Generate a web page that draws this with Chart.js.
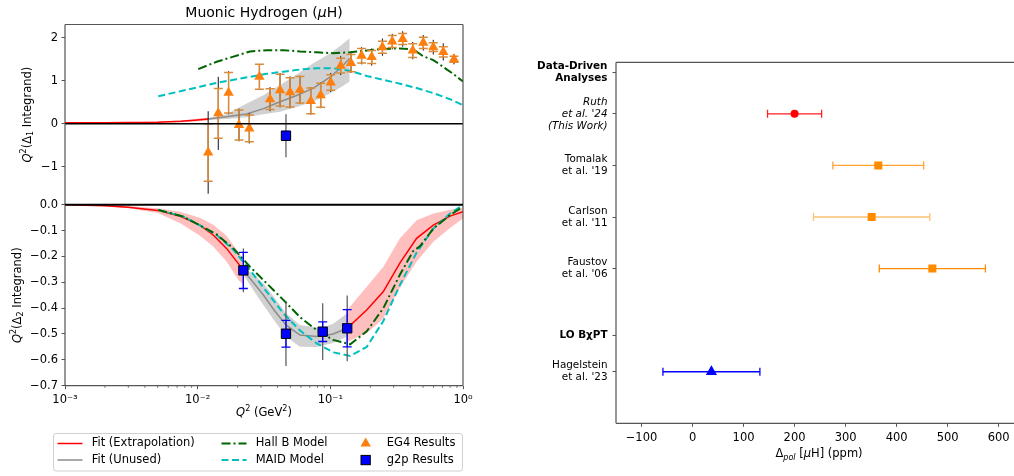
<!DOCTYPE html>
<html>
<head>
<meta charset="utf-8">
<title>Muonic Hydrogen</title>
<script src="https://cdn.jsdelivr.net/npm/chart.js@4.4.1/dist/chart.umd.min.js"></script>
<style>
  html, body { margin: 0; padding: 0; background: #fff; }
  #page { position: relative; width: 1014px; height: 476px; overflow: hidden; }
  canvas { position: absolute; top: 0; }
</style>
</head>
<body>
<div id="page">
  <canvas id="topChart" width="500" height="476" style="left:0"></canvas>
  <canvas id="bottomChart" width="500" height="476" style="left:0"></canvas>
  <canvas id="resultChart" width="514" height="476" style="left:500px"></canvas>
</div>
<script>
// ---------- shared x axis (Q^2 in GeV^2, log) ----------
const q2Ticks = [0.001, 0.01, 0.1, 1];
const q2TickLabels = ['10⁻³', '10⁻²', '10⁻¹', '10⁰'];

// ---------- top panel: Q^2 (Delta_1 integrand) ----------
const topTicks = [-1, 0, 1, 2];

const eg4Q2 = [0.0120, 0.0143, 0.0171, 0.0205, 0.0245, 0.0292, 0.0351, 0.0418, 0.0497, 0.059, 0.0712, 0.0846, 0.1006,
  0.1197, 0.143, 0.172, 0.205, 0.247, 0.293, 0.351, 0.418, 0.502, 0.597, 0.71, 0.855];
const eg4Val = [-0.67, 0.24, 0.72, -0.03, -0.11, 1.09, 0.57, 0.78, 0.73, 0.79, 0.53, 0.66, 0.96, 1.35, 1.41, 1.58, 1.55,
  1.78, 1.91, 1.97, 1.70, 1.88, 1.78, 1.67, 1.50];
const eg4Err = [0.67, 0.58, 0.47, 0.35, 0.31, 0.29, 0.24, 0.37, 0.34, 0.31, 0.30, 0.28, 0.18, 0.17, 0.2, 0.17, 0.15,
  0.14, 0.14, 0.13, 0.16, 0.13, 0.1, 0.12, 0.07];
const eg4Sys = [0.96, 0.85, 0.5, 0.38, 0.35, 0.3, 0.28, 0.4, 0.37, 0.33, 0.32, 0.3, 0.22, 0.22, 0.23, 0.2, 0.2,
  0.2, 0.18, 0.18, 0.2, 0.18, 0.17, 0.2, 0.12];

const g2pTopQ2 = [0.0463];
const g2pTopVal = [-0.28];
const g2pTopErr = [0.1];
const g2pTopSys = [0.5];

const fitTopQ2 = [0.001, 0.002, 0.003, 0.005, 0.0075, 0.0095, 0.012];
const fitTopVal = [0.02, 0.022, 0.025, 0.035, 0.055, 0.08, 0.11];
const fitTopLo = [0.012, 0.013, 0.014, 0.02, 0.033, 0.05, 0.075];
const fitTopHi = [0.028, 0.031, 0.036, 0.05, 0.077, 0.11, 0.145];

const unusedTopQ2 = [0.012, 0.0165, 0.0234, 0.0313, 0.0418, 0.055, 0.074, 0.1, 0.12, 0.14];
const unusedTopVal = [0.11, 0.16, 0.225, 0.35, 0.51, 0.65, 0.82, 1.09, 1.3, 1.52];
const unusedTopLo = [0.085, 0.11, 0.15, 0.22, 0.28, 0.38, 0.51, 0.71, 0.85, 0.98];
const unusedTopHi = [0.135, 0.22, 0.47, 0.66, 0.9, 1.13, 1.4, 1.64, 1.82, 1.99];

const hallBTopQ2 = [0.0101, 0.0139, 0.0186, 0.0248, 0.0331, 0.0442, 0.0591, 0.0789, 0.105, 0.141, 0.188, 0.251,
  0.335, 0.423, 0.5, 0.598, 0.71, 0.85, 1.0];
const hallBTopVal = [1.27, 1.44, 1.56, 1.68, 1.71, 1.71, 1.68, 1.66, 1.64, 1.66, 1.70, 1.74, 1.75, 1.73, 1.57, 1.48,
  1.32, 1.15, 0.98];

const maidTopQ2 = [0.00505, 0.0078, 0.0104, 0.0139, 0.0186, 0.0248, 0.0331, 0.0442, 0.0591, 0.0789, 0.105, 0.141,
  0.188, 0.251, 0.335, 0.447, 0.598, 0.798, 1.0];
const maidTopVal = [0.64, 0.77, 0.86, 0.95, 1.02, 1.09, 1.16, 1.21, 1.26, 1.29, 1.29, 1.23, 1.11, 1.02, 0.93, 0.83,
  0.71, 0.57, 0.43];

// ---------- bottom panel: Q^2 (Delta_2 integrand) ----------
const bottomTicks = [0, -0.1, -0.2, -0.3, -0.4, -0.5, -0.6, -0.7];

const g2pBotQ2 = [0.0221, 0.0463, 0.0876, 0.134];
const g2pBotVal = [-0.254, -0.499, -0.491, -0.478];
const g2pBotErr = [0.07, 0.052, 0.038, 0.072];
const g2pBotSys = [0.085, 0.125, 0.11, 0.127];

const fitLowQ2 = [0.001, 0.002, 0.003, 0.005, 0.0074, 0.0104, 0.0131, 0.0165, 0.0202, 0.0221];
const fitLowVal = [0, -0.004, -0.01, -0.022, -0.045, -0.079, -0.117, -0.169, -0.227, -0.254];
const fitLowLo = [0, -0.006, -0.014, -0.032, -0.072, -0.12, -0.162, -0.22, -0.29, -0.31];
const fitLowHi = [0, -0.003, -0.006, -0.014, -0.027, -0.05, -0.078, -0.12, -0.182, -0.21];

const fitHighQ2 = [0.134, 0.188, 0.251, 0.335, 0.447, 0.598, 0.798, 1.0];
const fitHighVal = [-0.478, -0.407, -0.336, -0.225, -0.13, -0.079, -0.044, -0.027];
const fitHighLo = [-0.53, -0.497, -0.44, -0.32, -0.22, -0.143, -0.09, -0.053];
const fitHighHi = [-0.407, -0.317, -0.24, -0.13, -0.06, -0.034, -0.02, -0.012];

const unusedBotQ2 = [0.0221, 0.0262, 0.0313, 0.038, 0.0463, 0.059, 0.0789, 0.0876, 0.105, 0.134];
const unusedBotVal = [-0.254, -0.30, -0.349, -0.41, -0.465, -0.504, -0.51, -0.508, -0.50, -0.478];
const unusedBotLo = [-0.27, -0.33, -0.388, -0.45, -0.51, -0.549, -0.55, -0.545, -0.535, -0.51];
const unusedBotHi = [-0.24, -0.27, -0.304, -0.36, -0.42, -0.465, -0.475, -0.475, -0.46, -0.42];

const hallBBotQ2 = [0.00505, 0.0078, 0.0104, 0.0139, 0.0186, 0.0248, 0.0331, 0.0442, 0.0591, 0.0789, 0.105, 0.141,
  0.188, 0.251, 0.335, 0.42, 0.475, 0.598, 0.798, 1.0];
const hallBBotVal = [-0.02, -0.046, -0.08, -0.115, -0.169, -0.24, -0.304, -0.368, -0.435, -0.485, -0.523, -0.54,
  -0.49, -0.40, -0.27, -0.18, -0.16, -0.092, -0.04, -0.008];

const maidBotQ2 = [0.00505, 0.0078, 0.0104, 0.0139, 0.0186, 0.0248, 0.0331, 0.0442, 0.0591, 0.0789, 0.105, 0.141,
  0.188, 0.251, 0.335, 0.447, 0.598, 0.798, 1.0];
const maidBotVal = [-0.02, -0.046, -0.08, -0.117, -0.175, -0.253, -0.336, -0.42, -0.487, -0.536, -0.571, -0.585,
  -0.55, -0.45, -0.31, -0.185, -0.092, -0.034, -0.001];

const legendLabels = ['Fit (Extrapolation)', 'Fit (Unused)', 'Hall B Model', 'MAID Model', 'EG4 Results', 'g2p Results'];

// ---------- right panel: Delta_pol comparison ----------
const rowLabels = [['Data-Driven', 'Analyses'], ['Ruth', "et al. '24", '(This Work)'], ['Tomalak', "et al. '19"],
  ['Carlson', "et al. '11"], ['Faustov', "et al. '06"], 'LO BχPT', ['Hagelstein', "et al. '23"]];
const rowY = [-0.8, 0, 1, 2, 3, 4.3, 5];
const resultRow = [1, 2, 3, 4, 6];
const resultVal = [200, 364, 351, 470, 37];
const resultErr = [53, 89, 114, 104, 95];
const polTicks = [-100, 0, 100, 200, 300, 400, 500, 600];

// ---------- styling ----------
const FONT = '"DejaVu Sans", sans-serif';
const BASE = 11.5;
const AXIS = '#555';
const ORANGE = '#ff7f0e';
const EG4_BAR = '#d98b3a';
const resultColor = ['#ff0000', '#ff8c00', '#ff8c00', '#ff8c00', '#0000ff'];
const resultBar = ['#ff2020', 'rgba(255,140,0,0.8)', 'rgba(255,140,0,0.55)', '#ff8c00', '#0000ff'];
const resultMarker = ['circle', 'rect', 'rect', 'rect', 'triangle'];
const resultSize = [4, 5.7, 5.7, 5.7, 6.5];

Chart.defaults.font.family = FONT;
Chart.defaults.font.size = BASE;
Chart.defaults.color = '#000';
Chart.defaults.animation = false;
Chart.defaults.events = [];
Chart.defaults.plugins.legend.display = false;
Chart.defaults.plugins.tooltip.enabled = false;

const pts = (xs, ys) => xs.map((x, i) => ({ x, y: ys[i] }));
const minus = s => String(s).replace('-', '−');

function line(xs, ys, color, width, dash) {
  return { data: pts(xs, ys), borderColor: color, borderWidth: width, borderDash: dash || [],
    pointRadius: 0, fill: false, tension: 0 };
}
function band(xs, hi, lo, color) {
  return [
    { data: pts(xs, hi), borderWidth: 0, borderColor: 'rgba(0,0,0,0)', pointRadius: 0, fill: '+1', backgroundColor: color },
    { data: pts(xs, lo), borderWidth: 0, borderColor: 'rgba(0,0,0,0)', pointRadius: 0, fill: false }
  ];
}

// text with mixed styles (italic, super/subscripts)
function rich(ctx, x, y, parts, opt = {}) {
  ctx.save();
  ctx.translate(x, y);
  if (opt.rot) ctx.rotate(opt.rot);
  ctx.fillStyle = '#000';
  ctx.textBaseline = 'alphabetic';
  ctx.textAlign = 'left';
  const size = opt.size || BASE;
  const fontOf = p => (p.it ? 'italic ' : '') + (p.small ? size * 0.7 : size) + 'px ' + FONT;
  let w = 0;
  parts.forEach(p => { ctx.font = fontOf(p); p.w = ctx.measureText(p.t).width; w += p.w; });
  let cx = -w / 2;
  parts.forEach(p => { ctx.font = fontOf(p); ctx.fillText(p.t, cx, (p.dy || 0) * size); cx += p.w; });
  ctx.restore();
}

// error bars drawn just under each dataset's markers
const errorBars = {
  id: 'errorBars',
  beforeDatasetDraw(chart, args) {
    const ds = chart.data.datasets[args.index];
    if (!ds.errBars) return;
    const { ctx, chartArea } = chart;
    const xs = chart.scales[args.meta.xAxisID];
    const ys = chart.scales[args.meta.yAxisID];
    ctx.save();
    ctx.beginPath();
    ctx.rect(chartArea.left, chartArea.top, chartArea.width, chartArea.height);
    ctx.clip();
    ds.errBars.forEach(b => {
      ctx.lineWidth = b.width;
      ds.data.forEach((p, i) => {
        const e = b.err[i];
        ctx.strokeStyle = Array.isArray(b.color) ? b.color[i] : b.color;
        ctx.beginPath();
        if (b.dir === 'x') {
          const y = ys.getPixelForValue(p.y);
          const x0 = xs.getPixelForValue(p.x - e), x1 = xs.getPixelForValue(p.x + e);
          ctx.moveTo(x0, y); ctx.lineTo(x1, y);
          if (b.cap) {
            ctx.moveTo(x0, y - b.cap); ctx.lineTo(x0, y + b.cap);
            ctx.moveTo(x1, y - b.cap); ctx.lineTo(x1, y + b.cap);
          }
        } else {
          const x = xs.getPixelForValue(p.x);
          const y0 = ys.getPixelForValue(p.y - e), y1 = ys.getPixelForValue(p.y + e);
          ctx.moveTo(x, y0); ctx.lineTo(x, y1);
          if (b.cap) {
            ctx.moveTo(x - b.cap, y0); ctx.lineTo(x + b.cap, y0);
            ctx.moveTo(x - b.cap, y1); ctx.lineTo(x + b.cap, y1);
          }
        }
        ctx.stroke();
      });
    });
    ctx.restore();
  }
};

// frame + black zero line
function frame(sides, zeroWidth) {
  return {
    id: 'frame',
    afterDatasetsDraw(chart) {
      const { ctx, chartArea: a } = chart;
      ctx.save();
      if (zeroWidth) {
        const y0 = chart.scales.y.getPixelForValue(0);
        ctx.strokeStyle = '#000';
        ctx.lineWidth = zeroWidth;
        ctx.beginPath(); ctx.moveTo(a.left, y0); ctx.lineTo(a.right, y0); ctx.stroke();
      }
      ctx.strokeStyle = AXIS;
      ctx.lineWidth = 1.2;
      ctx.beginPath();
      if (sides.includes('t')) { ctx.moveTo(a.left, a.top); ctx.lineTo(a.right, a.top); }
      if (sides.includes('b')) { ctx.moveTo(a.left, a.bottom); ctx.lineTo(a.right, a.bottom); }
      if (sides.includes('l')) { ctx.moveTo(a.left, a.top); ctx.lineTo(a.left, a.bottom); }
      if (sides.includes('r')) { ctx.moveTo(a.right, a.top); ctx.lineTo(a.right, a.bottom); }
      ctx.stroke();
      ctx.restore();
    }
  };
}

function yAxis(min, max, ticks, fmt, width) {
  return {
    type: 'linear', min, max,
    afterBuildTicks: s => { s.ticks = ticks.map(v => ({ value: v })); },
    afterFit: s => { s.width = width; },
    grid: { drawOnChartArea: false, tickLength: 3.5, color: AXIS, lineWidth: 1 },
    border: { display: false },
    ticks: { autoSkip: false, padding: 3.5, callback: fmt }
  };
}

function logX(show) {
  return {
    type: 'logarithmic', min: 0.001, max: 1, display: show,
    afterBuildTicks: s => { s.ticks = q2Ticks.map(v => ({ value: v })); },
    afterFit: s => { s.height = show ? 34 : 0; s.paddingLeft = 0; s.paddingRight = 0; },
    grid: { drawOnChartArea: false, tickLength: 3.5, color: AXIS, lineWidth: 1 },
    border: { display: false },
    ticks: { autoSkip: false, maxRotation: 0, padding: 4, callback: (v, i) => q2TickLabels[i] }
  };
}

// ---------- top chart ----------
new Chart(document.getElementById('topChart'), {
  type: 'line',
  data: {
    datasets: [
      { data: pts(g2pTopQ2, g2pTopVal), showLine: false, pointStyle: 'rect', pointRadius: 6.6,
        backgroundColor: '#0000ff', borderColor: '#000', borderWidth: 1,
        errBars: [{ err: g2pTopSys, color: '#555', width: 1.2 }, { err: g2pTopErr, color: '#0000ff', width: 1.3, cap: 4.5 }] },
      { data: pts(eg4Q2, eg4Val), showLine: false, pointStyle: 'triangle', pointRadius: 6,
        backgroundColor: ORANGE, borderColor: ORANGE, borderWidth: 0,
        errBars: [{ err: eg4Sys, color: '#111', width: 1 }, { err: eg4Err, color: EG4_BAR, width: 1.5, cap: 4.5 }] },
      line(hallBTopQ2, hallBTopVal, '#006400', 2, [9, 3, 2, 3]),
      line(maidTopQ2, maidTopVal, '#00bfbf', 2, [7, 3.5]),
      line(unusedTopQ2, unusedTopVal, '#8c8c8c', 1.5),
      line(fitTopQ2, fitTopVal, '#ff0000', 1.5),
      ...band(unusedTopQ2, unusedTopHi, unusedTopLo, 'rgba(140,140,140,0.4)'),
      ...band(fitTopQ2, fitTopHi, fitTopLo, 'rgba(255,0,0,0.25)')
    ]
  },
  options: {
    responsive: false,
    layout: { autoPadding: false, padding: { left: 0, right: 37, top: 24.5, bottom: 271.3 } },
    scales: {
      x: logX(false),
      y: yAxis(-1.884, 2.307, topTicks, v => minus(v), 65)
    }
  },
  plugins: [errorBars, frame('tlr', 1.5), {
    id: 'topText',
    afterDraw(chart) {
      const ctx = chart.ctx;
      rich(ctx, 264, 16.5, [{ t: 'Muonic Hydrogen (' }, { t: 'μ', it: true }, { t: 'H)' }], { size: 14 });
      const a = chart.chartArea;
      rich(ctx, 31, (a.top + a.bottom) / 2, [{ t: 'Q', it: true }, { t: '2', small: true, dy: -0.4 },
        { t: '(Δ' }, { t: '1', small: true, dy: 0.2 }, { t: ' Integrand)' }], { rot: -Math.PI / 2 });
    }
  }]
});

// ---------- bottom chart ----------
const minorTicks = {
  id: 'minorTicks',
  afterDraw(chart) {
    const { ctx, chartArea: a } = chart;
    const xs = chart.scales.x;
    ctx.save();
    ctx.strokeStyle = AXIS;
    ctx.lineWidth = 0.8;
    ctx.beginPath();
    for (let d = -3; d < 0; d++) {
      for (let k = 2; k < 10; k++) {
        const px = xs.getPixelForValue(k * Math.pow(10, d));
        ctx.moveTo(px, a.bottom); ctx.lineTo(px, a.bottom + 2.2);
      }
    }
    ctx.stroke();
    ctx.restore();
  }
};

const legendBox = {
  id: 'legendBox',
  afterDraw(chart) {
    const ctx = chart.ctx;
    ctx.save();
    ctx.fillStyle = '#fff';
    ctx.strokeStyle = '#d0d0d0';
    ctx.lineWidth = 1;
    ctx.beginPath();
    ctx.roundRect(53.5, 433.5, 409, 37.5, 2.5);
    ctx.fill(); ctx.stroke();
    const r1 = 443.5, r2 = 460;
    const seg = (x0, x1, y, color, w, dash) => {
      ctx.strokeStyle = color; ctx.lineWidth = w; ctx.setLineDash(dash || []);
      ctx.beginPath(); ctx.moveTo(x0, y); ctx.lineTo(x1, y); ctx.stroke();
    };
    seg(57.5, 82.5, r1, '#ff0000', 1.5);
    seg(57.5, 82.5, r2, '#8c8c8c', 1.5);
    seg(221.5, 246.5, r1, '#006400', 2, [9, 3, 2, 3]);
    seg(221.5, 246.5, r2, '#00bfbf', 2, [7, 3.5]);
    ctx.setLineDash([]);
    // triangle
    ctx.fillStyle = ORANGE;
    ctx.beginPath();
    ctx.moveTo(365.7, r1 - 6); ctx.lineTo(370.9, r1 + 3); ctx.lineTo(360.5, r1 + 3); ctx.closePath(); ctx.fill();
    // square
    ctx.fillStyle = '#0000ff'; ctx.strokeStyle = '#000'; ctx.lineWidth = 1;
    ctx.fillRect(361, r2 - 4.6, 9.3, 9.3); ctx.strokeRect(361, r2 - 4.6, 9.3, 9.3);
    ctx.fillStyle = '#000';
    ctx.font = BASE + 'px ' + FONT;
    ctx.textBaseline = 'middle';
    ctx.textAlign = 'left';
    ctx.fillText(legendLabels[0], 91.7, r1);
    ctx.fillText(legendLabels[1], 91.7, r2);
    ctx.fillText(legendLabels[2], 255.7, r1);
    ctx.fillText(legendLabels[3], 255.7, r2);
    ctx.fillText(legendLabels[4], 386.7, r1);
    ctx.fillText(legendLabels[5], 386.7, r2);
    ctx.restore();
  }
};

new Chart(document.getElementById('bottomChart'), {
  type: 'line',
  data: {
    datasets: [
      { data: pts(g2pBotQ2, g2pBotVal), showLine: false, pointStyle: 'rect', pointRadius: 6.6,
        backgroundColor: '#0000ff', borderColor: '#000', borderWidth: 1,
        errBars: [{ err: g2pBotSys, color: '#555', width: 1.2 }, { err: g2pBotErr, color: '#0000ff', width: 1.3, cap: 4.5 }] },
      line(hallBBotQ2, hallBBotVal, '#006400', 2, [9, 3, 2, 3]),
      line(maidBotQ2, maidBotVal, '#00bfbf', 2, [7, 3.5]),
      line(unusedBotQ2, unusedBotVal, '#8c8c8c', 1.5),
      line(fitLowQ2, fitLowVal, '#ff0000', 1.5),
      line(fitHighQ2, fitHighVal, '#ff0000', 1.5),
      ...band(unusedBotQ2, unusedBotHi, unusedBotLo, 'rgba(140,140,140,0.4)'),
      ...band(fitLowQ2, fitLowHi, fitLowLo, 'rgba(255,0,0,0.25)'),
      ...band(fitHighQ2, fitHighHi, fitHighLo, 'rgba(255,0,0,0.25)')
    ]
  },
  options: {
    responsive: false,
    layout: { autoPadding: false, padding: { left: 0, right: 37, top: 204.7, bottom: 56.3 } },
    scales: {
      x: logX(true),
      y: yAxis(-0.7, 0, bottomTicks, v => minus(v.toFixed(1)), 65)
    }
  },
  plugins: [errorBars, frame('blr', 2), minorTicks, legendBox, {
    id: 'bottomText',
    afterDraw(chart) {
      const ctx = chart.ctx;
      const a = chart.chartArea;
      rich(ctx, 21, (a.top + a.bottom) / 2, [{ t: 'Q', it: true }, { t: '2', small: true, dy: -0.4 },
        { t: '(Δ' }, { t: '2', small: true, dy: 0.2 }, { t: ' Integrand)' }], { rot: -Math.PI / 2 });
      rich(ctx, (a.left + a.right) / 2, 416, [{ t: 'Q', it: true }, { t: '2', small: true, dy: -0.4 },
        { t: ' (GeV' }, { t: '2', small: true, dy: -0.4 }, { t: ')' }]);
    }
  }]
});

// ---------- right chart ----------
new Chart(document.getElementById('resultChart'), {
  type: 'line',
  data: {
    datasets: [{
      data: resultVal.map((v, i) => ({ x: v, y: rowY[resultRow[i]] })),
      showLine: false,
      pointStyle: resultMarker,
      pointRadius: resultSize,
      backgroundColor: resultColor,
      borderWidth: 0,
      errBars: [{ err: resultErr, dir: 'x', color: resultBar, width: 1.3, cap: 4 }]
    }]
  },
  options: {
    responsive: false,
    layout: { autoPadding: false, padding: { left: 0, right: 0, top: 62.3, bottom: 22.7 } },
    scales: {
      x: {
        type: 'linear', min: -150, max: 630,
        afterBuildTicks: s => { s.ticks = polTicks.map(v => ({ value: v })); },
        afterFit: s => { s.height = 30; s.paddingLeft = 0; s.paddingRight = 0; },
        grid: { drawOnChartArea: false, tickLength: 3.5, color: AXIS, lineWidth: 1 },
        border: { display: false },
        ticks: { autoSkip: false, maxRotation: 0, padding: 4, callback: v => minus(v) }
      },
      y: {
        type: 'linear', min: -1, max: 6, reverse: true,
        afterBuildTicks: s => { s.ticks = rowY.map(v => ({ value: v })); },
        afterFit: s => { s.width = 116; s.paddingTop = 0; s.paddingBottom = 0; },
        grid: { drawOnChartArea: false, tickLength: 3.5, color: AXIS, lineWidth: 1 },
        border: { display: false },
        ticks: {
          autoSkip: false, padding: 5,
          callback: v => rowLabels[rowY.indexOf(v)],
          font: ctx => {
            const i = ctx.tick ? rowY.indexOf(ctx.tick.value) : -1;
            return { size: 10.4, lineHeight: 1.15, weight: (i === 0 || i === 5) ? 'bold' : 'normal',
              style: i === 1 ? 'italic' : 'normal' };
          }
        }
      }
    }
  },
  plugins: [errorBars, frame('tlb', 0), {
    id: 'resultText',
    afterDraw(chart) {
      const a = chart.chartArea;
      rich(chart.ctx, (a.left + a.right) / 2 + 4, 457, [{ t: 'Δ' }, { t: 'pol', it: true, small: true, dy: 0.25 },
        { t: ' [' }, { t: 'μ', it: true }, { t: 'H] (ppm)' }]);
    }
  }]
});
</script>
</body>
</html>
